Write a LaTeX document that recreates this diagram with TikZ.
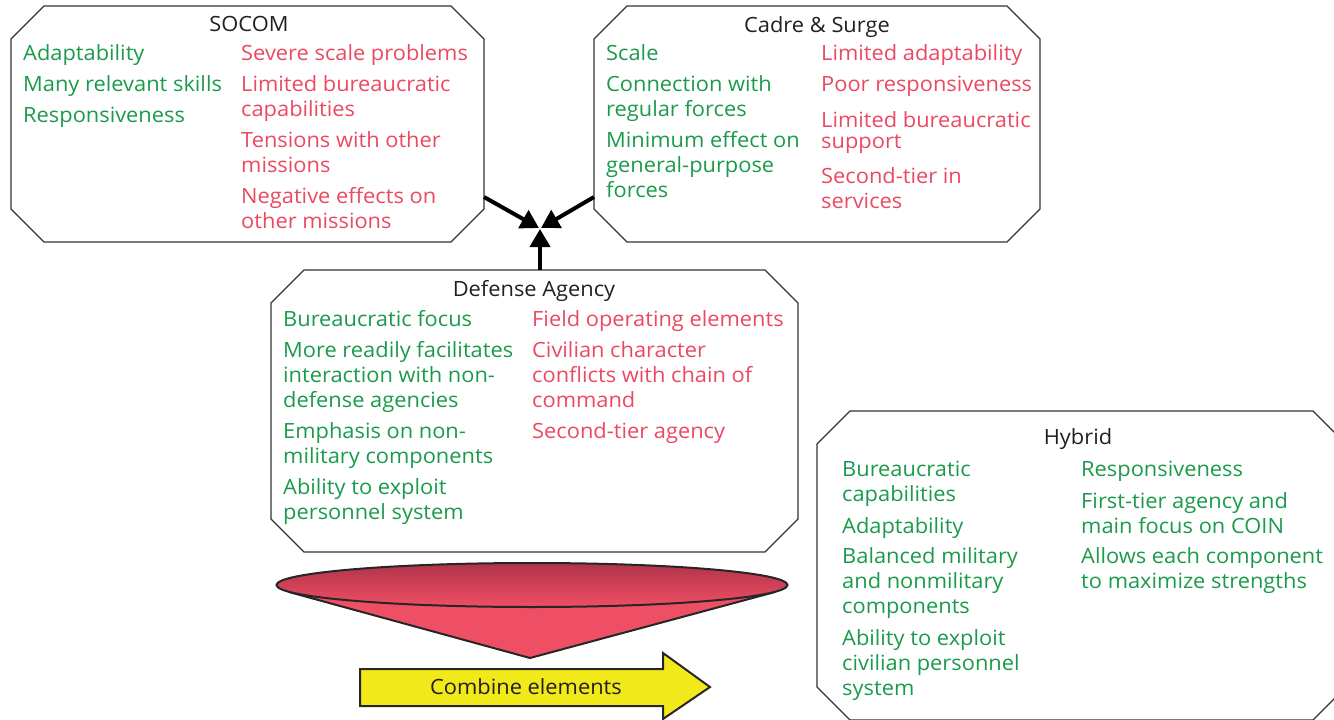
\documentclass[tikz,border=0pt]{standalone}
\usepackage{fontspec}
\setmainfont{Open Sans}[FakeStretch=1.04]
\usetikzlibrary{arrows.meta,shapes.geometric}
\definecolor{pgreen}{HTML}{1B9A4B}
\definecolor{pred}{HTML}{EA4961}
\definecolor{ptitle}{HTML}{231F20}
\definecolor{funneltop}{HTML}{B0344A}
\definecolor{funnelbot}{HTML}{EF4F65}
\definecolor{arrowyellow}{HTML}{F2E91A}
\newcommand\bodyfont{\fontsize{21}{25}\selectfont}
\newcommand\octa[5]{\draw[octo] (#1+#5,#2) -- (#3-#5,#2) -- (#3,#2+#5) -- (#3,#4-#5) -- (#3-#5,#4) -- (#1+#5,#4) -- (#1,#4-#5) -- (#1,#2+#5) -- cycle;}
\newcommand\itm[5]{\node[#2] (#1) at (#3,#4-18) {\rule{0pt}{18pt}#5};}
\begin{document}
\begin{tikzpicture}[x=1pt,y=-1pt,
  octo/.style={draw=black!80, line width=1.3pt},
  ttl/.style={font=\bodyfont, text=ptitle, anchor=base, inner sep=0pt},
  good/.style={font=\bodyfont, text=pgreen, anchor=north west, inner sep=0pt, align=left},
  bad/.style={font=\bodyfont, text=pred, anchor=north west, inner sep=0pt, align=left},
  link/.style={line width=4pt, -{Triangle[length=18pt,width=20pt]}}]
\useasboundingbox (0,0) rectangle (1334,720);
\begin{scope}
\clip (0,0) rectangle (1334,720);
% boxes
\octa{11}{6}{484}{242}{33}
\octa{594}{6}{1040}{242}{33}
\octa{271}{270}{798}{552}{33}
\octa{817}{411}{1346}{720}{33}
\end{scope}

% SOCOM
\node[ttl] (socomT) at (249,31) {SOCOM};
\itm{s1}{good}{23}{60}{Adaptability}
\itm{s2}{good}{23}{91}{Many relevant skills}
\itm{s3}{good}{23}{122}{Responsiveness}
\itm{s4}{bad}{241}{60}{Severe scale problems}
\itm{s5}{bad}{241}{91}{Limited bureaucratic\\capabilities}
\itm{s6}{bad}{241}{147}{Tensions with other\\missions}
\itm{s7}{bad}{241}{203}{Negative effects on\\other missions}

% Cadre & Surge
\node[ttl] (cadreT) at (817,32) {Cadre \& Surge};
\itm{c1}{good}{606}{60}{Scale}
\itm{c2}{good}{606}{91}{Connection with\\regular forces}
\itm{c3}{good}{606}{147}{Minimum effect on\\general-purpose\\forces}
\itm{c4}{bad}{821}{60}{Limited adaptability}
\itm{c5}{bad}{821}{91}{Poor responsiveness}
\itm{c6}{bad}{821}{127}{Limited bureaucratic\\[-4pt]support}
\itm{c7}{bad}{821}{183}{Second-tier in\\services}

% Defense Agency
\node[ttl] (daT) at (534,296) {Defense Agency};
\itm{d1}{good}{283}{326}{Bureaucratic focus}
\itm{d2}{good}{283}{357}{More readily facilitates\\interaction with non-\\defense agencies}
\itm{d3}{good}{283}{438}{Emphasis on non-\\military components}
\itm{d4}{good}{283}{494}{Ability to exploit\\personnel system}
\itm{d5}{bad}{532}{326}{Field operating elements}
\itm{d6}{bad}{532}{357}{Civilian character\\conflicts with chain of\\command}
\itm{d7}{bad}{532}{438}{Second-tier agency}

% Hybrid
\node[ttl] (hyT) at (1078,444) {Hybrid};
\itm{h1}{good}{842}{476}{Bureaucratic\\capabilities}
\itm{h2}{good}{842}{533}{Adaptability}
\itm{h3}{good}{842}{563}{Balanced military\\and nonmilitary\\components}
\itm{h4}{good}{842}{645}{Ability to exploit\\civilian personnel\\system}
\itm{h5}{good}{1081}{476}{Responsiveness}
\itm{h6}{good}{1081}{508}{First-tier agency and\\main focus on COIN}
\itm{h7}{good}{1081}{563}{Allows each component\\to maximize strengths}

% connectors
\coordinate (socomE) at (484,197);
\coordinate (cadreW) at (594,197);
\coordinate (daN) at (540,270);
\coordinate (tipL) at (539,228);
\coordinate (tipR) at (541,228);
\coordinate (tipB) at (540,229);
\draw[link] (socomE) -- (tipL);
\draw[link] (cadreW) -- (tipR);
\draw[link] (daN) -- (tipB);

% funnel
\fill[funnelbot, draw=black!85, line width=2pt, line join=round] (289,592) -- (530,658) -- (775,592) -- cycle;
\node[ellipse, minimum width=511pt, minimum height=44pt, inner sep=0pt, draw=black!85, line width=2pt,
  top color=funneltop, bottom color=funnelbot] (funnel) at (532,585) {};

% combine arrow
\draw[fill=arrowyellow, draw=black!85, line width=2pt, line join=miter]
  (360,669) -- (663,669) -- (663,653) -- (710,687) -- (663,719) -- (663,706) -- (360,706) -- cycle;
\node[font=\bodyfont, text=ptitle, inner sep=0pt] (combine) at (526,687) {Combine elements};
\end{tikzpicture}
\end{document}
